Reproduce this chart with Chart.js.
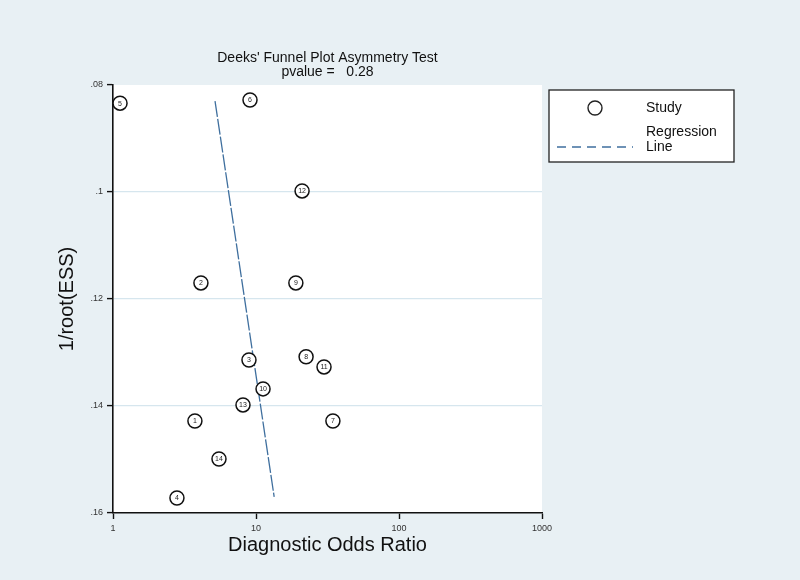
<!DOCTYPE html>
<html>
<head>
<meta charset="utf-8">
<script src="https://cdn.jsdelivr.net/npm/chart.js@4/dist/chart.umd.min.js"></script>
<style>
  html, body { margin: 0; padding: 0; background: #e8f0f4; }
  #wrap { width: 800px; height: 580px; }
</style>
</head>
<body>
<div id="wrap"><canvas id="canvas"></canvas></div>
<script>
// study data
var studyIds = ['1','2','3','4','5','6','7','8','9','10','11','12','13','14'];
var dor      = [3.74, 4.12, 8.93, 2.80, 1.12, 9.08, 34.5, 22.4, 19.0, 11.2, 29.9, 21.0, 8.11, 5.51];
var invEss   = [.1428, .117, .1314, .1572, .0834, .0828, .1428, .1308, .117, .1368, .1327, .0998, .1398, .1499];

// regression line end points
var regDor = [5.17, 13.4];
var regEss = [.0830, .1570];

var xTicks = [1, 10, 100, 1000];
var yTicks = [.08, .1, .12, .14, .16];

var studyPts = dor.map(function(d, i){ return {x: d, y: invEss[i]}; });
var regPts = regDor.map(function(d, i){ return {x: d, y: regEss[i]}; });

var bgPlugin = {
    id: 'bg',
    beforeDraw: function(chart){
        var c = chart.ctx, a = chart.chartArea;
        c.save();
        c.fillStyle = '#e8f0f4';
        c.fillRect(0, 0, chart.width, chart.height);
        c.fillStyle = '#ffffff';
        c.fillRect(a.left, a.top, a.right - a.left, a.bottom - a.top);
        c.restore();
    }
};

var labelPlugin = {
    id: 'labels',
    afterDatasetsDraw: function(chart){
        var c = chart.ctx;
        var meta = chart.getDatasetMeta(0);
        c.save();
        c.fillStyle = '#222';
        c.font = '7px "Liberation Sans", Arial, sans-serif';
        c.textAlign = 'center';
        c.textBaseline = 'middle';
        meta.data.forEach(function(p, i){
            c.fillText(studyIds[i], p.x, p.y + 0.5);
        });
        c.restore();
    },
    afterDraw: function(chart){
        var c = chart.ctx;
        c.save();
        // title
        c.fillStyle = '#111';
        c.font = '14px "Liberation Sans", Arial, sans-serif';
        c.textAlign = 'center';
        c.textBaseline = 'middle';
        var cx = (chart.chartArea.left + chart.chartArea.right) / 2;
        c.fillText("Deeks' Funnel Plot Asymmetry Test", cx, 58);
        c.fillText("pvalue =   0.28", cx, 72);
        // legend box
        c.fillStyle = '#ffffff';
        c.fillRect(549, 90, 185, 72);
        c.strokeStyle = '#222';
        c.lineWidth = 1.3;
        c.strokeRect(549, 90, 185, 72);
        c.beginPath();
        c.arc(595, 108, 7, 0, Math.PI * 2);
        c.lineWidth = 1.4;
        c.stroke();
        c.strokeStyle = '#3f6f9e';
        c.lineWidth = 1.3;
        c.setLineDash([9, 6]);
        c.beginPath();
        c.moveTo(557, 147);
        c.lineTo(633, 147);
        c.stroke();
        c.setLineDash([]);
        c.fillStyle = '#111';
        c.font = '14px "Liberation Sans", Arial, sans-serif';
        c.textAlign = 'left';
        c.fillText('Study', 646, 108);
        c.fillText('Regression', 646, 132);
        c.fillText('Line', 646, 147);
        c.restore();
    }
};

const ctx = document.getElementById('canvas').getContext('2d');
const chart = new Chart(ctx, {
    type: 'scatter',
    data: {
        datasets: [{
            label: 'Study',
            data: studyPts,
            pointRadius: 7,
            pointBorderWidth: 1.5,
            pointBorderColor: '#111',
            pointBackgroundColor: '#ffffff',
            pointHoverRadius: 7
        },
        {
            label: 'Regression Line',
            data: regPts,
            showLine: true,
            pointRadius: 0,
            borderColor: '#3f6f9e',
            borderWidth: 1.3,
            borderDash: [16, 2]
        }]
    },
    options: {
        responsive: true,
        maintainAspectRatio: false,
        animation: false,
        layout: { padding: { left: 0, right: 258, top: 85, bottom: 0 } },
        plugins: {
            legend: { display: false },
            tooltip: { enabled: false },
            title: { display: false }
        },
        scales: {
            x: {
                type: 'logarithmic',
                min: 1,
                max: 1000,
                afterBuildTicks: function(axis){
                    axis.ticks = xTicks.map(function(v){ return {value: v}; });
                },
                afterFit: function(axis){ axis.height = 67; },
                ticks: {
                    color: '#333',
                    font: { size: 9, family: '"Liberation Sans", Arial' },
                    padding: 4,
                    maxRotation: 0,
                    callback: function(v){ return String(v); }
                },
                grid: {
                    drawOnChartArea: false,
                    tickColor: '#111',
                    tickLength: 6,
                    tickWidth: 1.4
                },
                border: { color: '#111', width: 1.6 },
                title: {
                    display: true,
                    text: 'Diagnostic Odds Ratio',
                    color: '#111',
                    font: { size: 20, family: '"Liberation Sans", Arial' },
                    padding: { top: 0, bottom: 23 }
                }
            },
            y: {
                reverse: true,
                min: .08,
                max: .16,
                afterBuildTicks: function(axis){
                    axis.ticks = yTicks.map(function(v){ return {value: v}; });
                },
                afterFit: function(axis){ axis.width = 113; },
                ticks: {
                    color: '#333',
                    font: { size: 9, family: '"Liberation Sans", Arial' },
                    padding: 4,
                    callback: function(v){
                        return String(+v.toFixed(2)).replace(/^0/, '');
                    }
                },
                grid: {
                    color: function(c){
                        var v = c.tick ? c.tick.value : null;
                        return (v === .08 || v === .16) ? 'rgba(0,0,0,0)' : '#d6e6ee';
                    },
                    lineWidth: 1.2,
                    tickColor: '#111',
                    tickLength: 6,
                    tickWidth: 1.4
                },
                border: { color: '#111', width: 1.6 },
                title: {
                    display: true,
                    text: '1/root(ESS)',
                    color: '#111',
                    font: { size: 20, family: '"Liberation Sans", Arial' },
                    padding: { top: 55, bottom: 0 }
                }
            }
        }
    },
    plugins: [bgPlugin, labelPlugin]
});
</script>
</body>
</html>
